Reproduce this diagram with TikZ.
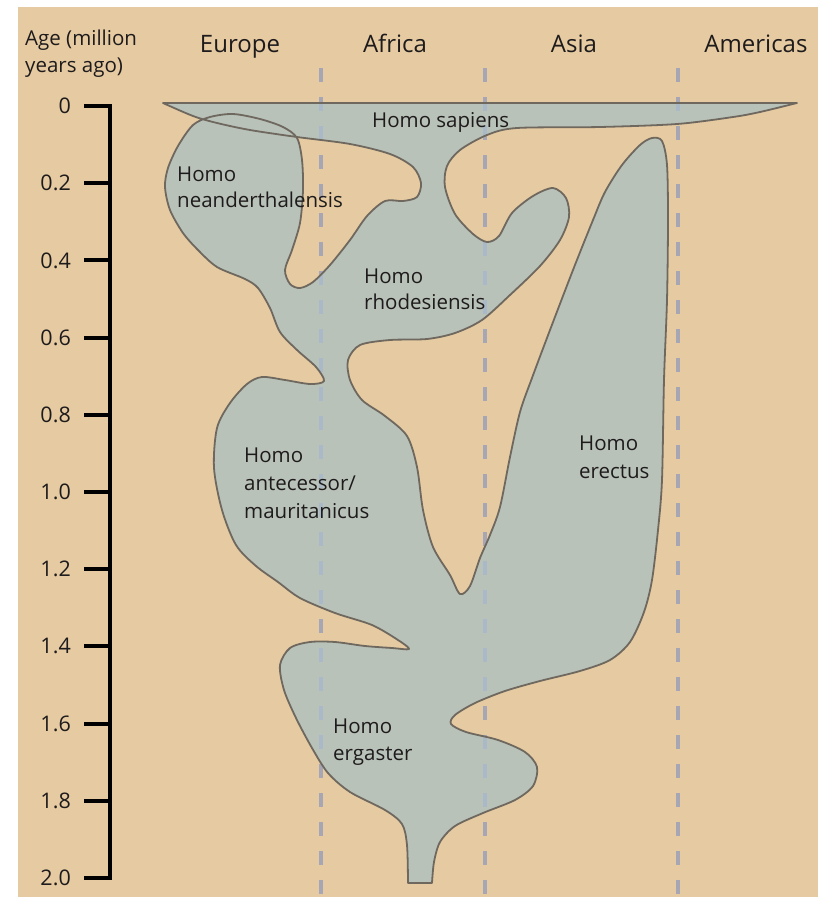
\documentclass[tikz,border=0pt]{standalone}
\usepackage{fontspec}
\setmainfont{Open Sans}
\definecolor{beige}{HTML}{E6CAA1}
\definecolor{blobfill}{HTML}{B9C2B9}
\definecolor{blobline}{HTML}{6E685F}
\definecolor{dashout}{HTML}{A7A6B5}
\definecolor{dashin}{HTML}{AAB9C8}
\definecolor{ink}{HTML}{1E1B1C}
\def\blob{(163,103) -- (797,103) -- plot[smooth,tension=0.5] coordinates {
(797,103) (760,112) (733,117) (677,124) (600,127) (517,128) (487,135) (460,150) (447,166) (445,187) (455,214) (473,234) (487,242) (499,236) (512,213) (533,196) (553,188) (566,198) (569,217) (560,240) (540,266) (510,295) (482,320) (455,333) (427,339) (390,340) (360,345) (348,360) (350,380) (362,400) (385,416) (407,436) (417,467) (423,510) (433,547) (450,575) (460,594) (470,586) (480,558) (490,535) (500,507) (510,457) (520,412) (532,378) (550,330) (573,270) (593,220) (605,192) (622,165) (640,145) (652,138) (662,141) (667,165) (668,220) (667,300) (664,380) (662,480) (658,530) (652,580) (644,612) (630,642) (610,660) (580,671) (540,681) (505,691) (475,703) (455,715) (451,724) (466,732) (498,740) (525,752) (537,767) (533,786) (515,800) (483,813) (455,826) (440,842) (434,862) (432,883)}
-- (408,883) -- plot[smooth,tension=0.5] coordinates {
(408,883) (407,845) (402,824) (385,810) (350,792) (328,773) (312,748) (296,718) (284,690) (280,665) (290,648) (310,642) (335,642) (365,646) (392,648) (409,649) (398,640) (372,625) (335,613) (300,598) (278,582) (256,566) (236,545) (222,510) (214,468) (217,428) (230,403) (247,384) (262,377) (285,380) (310,384) (324,381) (316,367) (297,350) (280,332) (270,308) (258,288) (245,279) (217,267) (198,250) (183,233) (170,210) (165,187) (168,168) (178,146) (193,125) (210,117) (233,114) (260,119) (283,127) (297,138) (302,160) (303,190) (300,223) (292,250) (285,270) (290,284) (300,288) (313,282) (330,265) (350,240) (367,216) (385,201) (403,201) (417,197) (421,183) (413,167) (390,154) (350,144) (297,137) (250,130) (217,123) (193,116) (163,103)} -- cycle}
\begin{document}
\begin{tikzpicture}[x=1pt,y=-1pt,
  lab/.style={anchor=base west,inner sep=0pt,text=ink,font=\fontsize{20.5}{24}\selectfont},
  head/.style={anchor=base,inner sep=0pt,text=ink,font=\fontsize{24}{29}\selectfont},
  ticklab/.style={anchor=east,inner sep=0pt,text=ink,font=\fontsize{21.5}{25}\selectfont},
  agelab/.style={anchor=base west,inner sep=0pt,text=ink,font=\fontsize{20.5}{25}\selectfont},
  axis/.style={line width=4pt,black},
  region/.style={line width=4pt,dash pattern=on 14pt off 15pt}]
\useasboundingbox (0,0) rectangle (823,897);
\fill[white] (0,0) rectangle (823,897);
\fill[beige] (18,7) rectangle (818,897);
% region dividers
\foreach \x/\n in {321/eu,485/af,678/as}{
  \coordinate (\n top) at (\x,68);
  \coordinate (\n bot) at (\x,894);
  \draw[region,dashout] (\n top) -- (\n bot);
}
% blob
\fill[blobfill] \blob;
\begin{scope}
  \clip \blob;
  \foreach \n in {eu,af,as}{\draw[region,dashin] (\n top) -- (\n bot);}
\end{scope}
\draw[blobline,line width=1.8pt,line join=round] \blob;
% axis
\coordinate (axtop) at (84,106);
\coordinate (axbot) at (84,878);
\draw[axis] (axtop) -- ++(26,0) |- (axbot);
\foreach \i/\lab in {0/0,1/0.2,2/0.4,3/0.6,4/0.8,5/1.0,6/1.2,7/1.4,8/1.6,9/1.8,10/2.0}{
  \coordinate (tk\i) at (84,106+77.2*\i);
  \draw[axis] (tk\i) -- ++(26,0);
  \node[ticklab] (tl\i) at (71,106+77.2*\i) {\lab};
}
% headers
\node[agelab] (age1) at (25,45) {Age (million};
\node[agelab] (age2) at (25,72) {years ago)};
\node[head] (europe) at (240,52) {Europe};
\node[head] (africa) at (395,52) {Africa};
\node[head] (asia) at (574,52) {Asia};
\node[head] (americas) at (756,52) {Americas};
% species labels
\node[lab] (sap) at (372,127) {Homo sapiens};
\node[lab] (nea1) at (177,181) {Homo};
\node[lab] (nea2) at (177,207) {neanderthalensis};
\node[lab] (rho1) at (364,283) {Homo};
\node[lab] (rho2) at (364,309) {rhodesiensis};
\node[lab] (ant1) at (244,462) {Homo};
\node[lab] (ant2) at (244,490) {antecessor/};
\node[lab] (ant3) at (244,518) {mauritanicus};
\node[lab] (ere1) at (579,450) {Homo};
\node[lab] (ere2) at (579,478) {erectus};
\node[lab] (erg1) at (333,733) {Homo};
\node[lab] (erg2) at (333,760) {ergaster};
\end{tikzpicture}
\end{document}
